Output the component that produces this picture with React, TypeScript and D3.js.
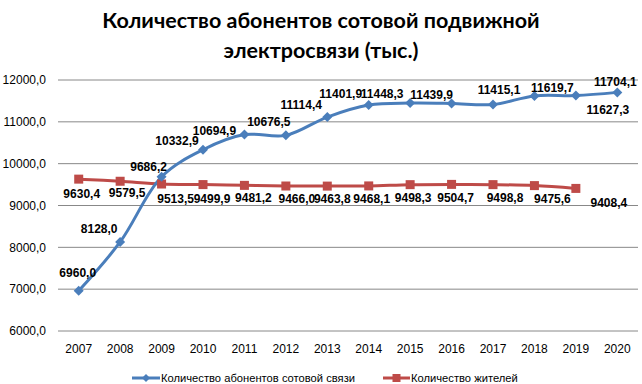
import React from "react";
import * as d3 from "d3";

const years = ["2007","2008","2009","2010","2011","2012","2013","2014","2015","2016","2017","2018","2019","2020"];
const subscribers = [6960.0, 8128.0, 9686.2, 10332.9, 10694.9, 10676.5, 11114.4, 11401.9, 11448.3, 11439.9, 11415.1, 11619.7, 11627.3, 11704.1];
const residents = [9630.4, 9579.5, 9513.5, 9499.9, 9481.2, 9466.0, 9463.8, 9468.1, 9498.3, 9504.7, 9498.8, 9475.6, 9408.4];
const yTicks = [6000, 7000, 8000, 9000, 10000, 11000, 12000];
const titleLines = ["Количество абонентов сотовой подвижной", "электросвязи (тыс.)"];
const seriesNames = ["Количество абонентов сотовой связи", "Количество жителей"];

// label placement offsets (layout only)
const blueOff: [number, number][] = [[-1,-18],[-21,-13],[-13,-10],[-26,-9],[-30,-4],[-17,-14],[-26,-12],[-28,-11],[-28,-9],[-20,-9],[6,-15],[18,-8],[32,14],[-2,-11]];
const redOff: [number, number][] = [[3,15],[7,12],[14,15],[9,14],[9,12],[11,13],[5,13],[3,13],[3,13],[4,13],[12,13],[18,13],[33,14]];

const fmt = (v: number) => v.toFixed(1).replace(".", ",");

const BLUE = "#4A7EBB";
const RED = "#BE4B48";
const FONT = "'Liberation Sans', Arial, sans-serif";

export default function App() {
  const W = 642, H = 384;
  const x = d3.scalePoint<string>().domain(years).range([58, 638]).padding(0.5);
  const y = d3.scaleLinear().domain([6000, 12000]).range([331, 80]);
  const line = d3.line<number>()
    .x((_, i) => x(years[i]) as number)
    .y((d) => y(d))
    .curve(d3.curveCatmullRom.alpha(0.5));

  const diamond = (cx: number, cy: number, r: number) =>
    `M${cx},${cy - r}L${cx + r},${cy}L${cx},${cy + r}L${cx - r},${cy}Z`;

  return (
    <svg width={W} height={H} style={{ position: "absolute", left: 0, top: 0, background: "#fff" }}>
      <rect x={0} y={0} width={W} height={H} fill="#fff" />
      {titleLines.map((t, i) => (
        <text key={i} x={321} y={28 + i * 30} textAnchor="middle" fontFamily="Lato, 'Open Sans', sans-serif" fontWeight="bold" fontSize={21.5} fill="#000">{t}</text>
      ))}
      {yTicks.map((t) => (
        <g key={t}>
          <line x1={58} x2={638} y1={y(t)} y2={y(t)} stroke="#888" strokeWidth={1} />
          <text x={46} y={y(t)} dy="0.35em" textAnchor="end" fontFamily={FONT} fontSize={12} fill="#000">{fmt(t)}</text>
        </g>
      ))}
      {years.map((yr) => (
        <text key={yr} x={x(yr)} y={353} textAnchor="middle" fontFamily={FONT} fontSize={12} fill="#000">{yr}</text>
      ))}
      <path d={line(residents) || ""} fill="none" stroke={RED} strokeWidth={3} />
      <path d={line(subscribers) || ""} fill="none" stroke={BLUE} strokeWidth={3} />
      {residents.map((v, i) => (
        <rect key={i} x={(x(years[i]) as number) - 4.5} y={y(v) - 4.5} width={9} height={9} fill={RED} />
      ))}
      {subscribers.map((v, i) => (
        <path key={i} d={diamond(x(years[i]) as number, y(v), 5)} fill={BLUE} />
      ))}
      {residents.map((v, i) => (
        <text key={i} x={(x(years[i]) as number) + redOff[i][0]} y={y(v) + redOff[i][1]} dy="0.35em" textAnchor="middle" fontFamily={FONT} fontWeight="bold" fontSize={12} fill="#000">{fmt(v)}</text>
      ))}
      {subscribers.map((v, i) => (
        <text key={i} x={(x(years[i]) as number) + blueOff[i][0]} y={y(v) + blueOff[i][1]} dy="0.35em" textAnchor="middle" fontFamily={FONT} fontWeight="bold" fontSize={12} fill="#000">{fmt(v)}</text>
      ))}
      <g>
        <line x1={132} x2={160} y1={378} y2={378} stroke={BLUE} strokeWidth={3} />
        <path d={diamond(146, 378, 4)} fill={BLUE} />
        <text x={161} y={378} dy="0.35em" fontFamily={FONT} fontSize={11.2} fill="#000">{seriesNames[0]}</text>
        <line x1={383} x2={410} y1={378} y2={378} stroke={RED} strokeWidth={3} />
        <rect x={392.5} y={374} width={8} height={8} fill={RED} />
        <text x={411} y={378} dy="0.35em" fontFamily={FONT} fontSize={11.2} fill="#000">{seriesNames[1]}</text>
      </g>
    </svg>
  );
}
